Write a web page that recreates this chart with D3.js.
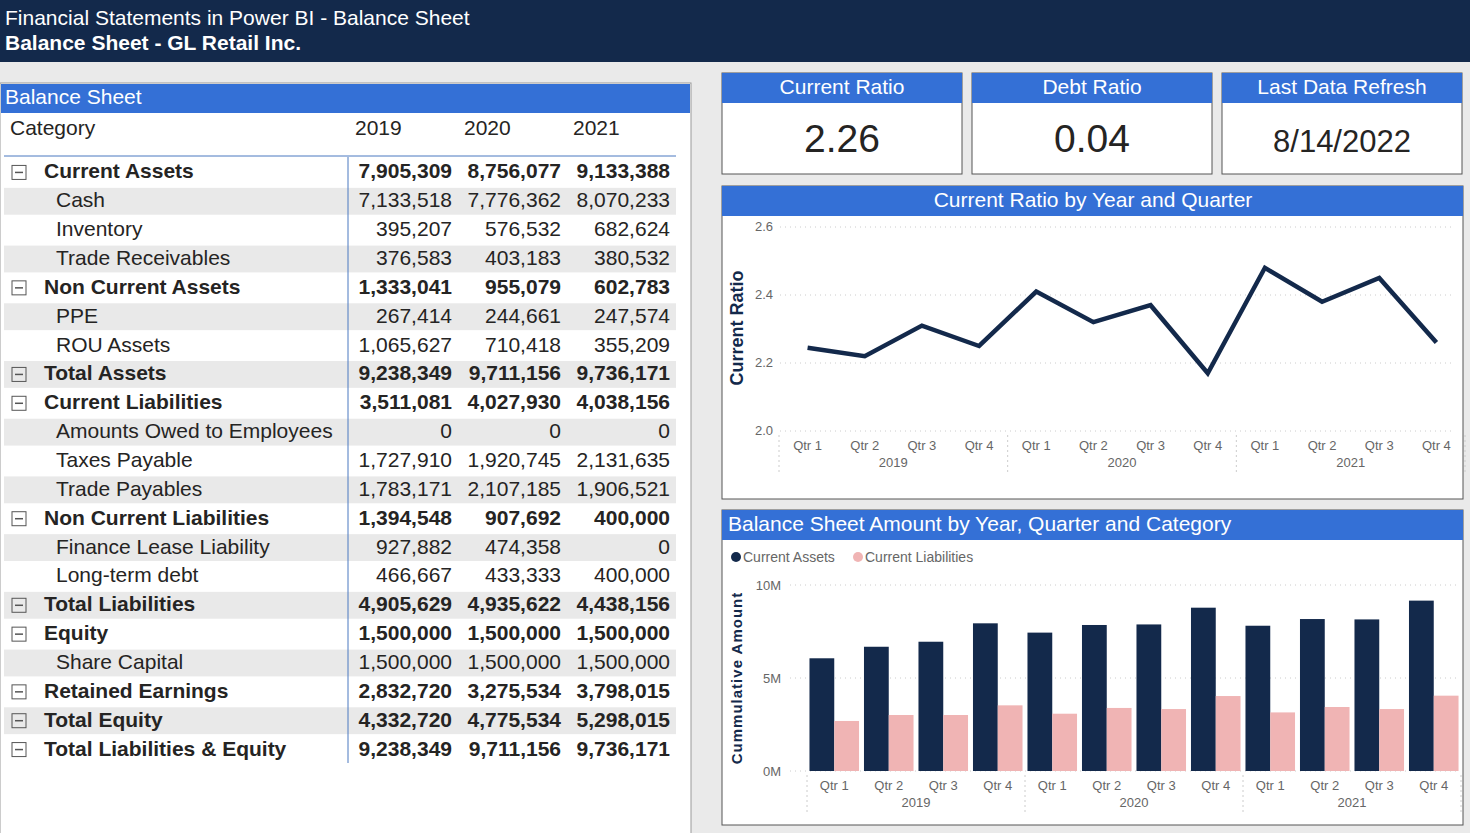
<!DOCTYPE html><html><head><meta charset="utf-8"><script src="https://cdn.jsdelivr.net/npm/d3@7"></script>
<style>body{margin:0;background:#eaeaea;font-family:Arial,"Liberation Sans",sans-serif}svg{display:block}</style></head><body>
<svg id="c" width="1470" height="833"></svg>
<script>
const years=["2019","2020","2021"];
const quarters=["Qtr 1","Qtr 2","Qtr 3","Qtr 4"];
const rowLabels=["Current Assets","Cash","Inventory","Trade Receivables","Non Current Assets","PPE","ROU Assets","Total Assets","Current Liabilities","Amounts Owed to Employees","Taxes Payable","Trade Payables","Non Current Liabilities","Finance Lease Liability","Long-term debt","Total Liabilities","Equity","Share Capital","Retained Earnings","Total Equity","Total Liabilities & Equity"];
const rowBold=[1,0,0,0,1,0,0,1,1,0,0,0,1,0,0,1,1,0,1,1,1];
const rowValues=[
["7,905,309","8,756,077","9,133,388"],["7,133,518","7,776,362","8,070,233"],["395,207","576,532","682,624"],["376,583","403,183","380,532"],
["1,333,041","955,079","602,783"],["267,414","244,661","247,574"],["1,065,627","710,418","355,209"],["9,238,349","9,711,156","9,736,171"],
["3,511,081","4,027,930","4,038,156"],["0","0","0"],["1,727,910","1,920,745","2,131,635"],["1,783,171","2,107,185","1,906,521"],
["1,394,548","907,692","400,000"],["927,882","474,358","0"],["466,667","433,333","400,000"],["4,905,629","4,935,622","4,438,156"],
["1,500,000","1,500,000","1,500,000"],["1,500,000","1,500,000","1,500,000"],["2,832,720","3,275,534","3,798,015"],["4,332,720","4,775,534","5,298,015"],["9,238,349","9,711,156","9,736,171"]];
const kpiLabels=["Current Ratio","Debt Ratio","Last Data Refresh"];
const kpiValues=["2.26","0.04","8/14/2022"];
const ratio=[2.245,2.22,2.31,2.25,2.41,2.32,2.37,2.17,2.48,2.38,2.45,2.26];
const assets=[6.06,6.68,6.95,7.94,7.44,7.85,7.88,8.78,7.81,8.17,8.15,9.16].map(v=>v*1e6);
const liabs=[2.69,3.01,3.01,3.53,3.08,3.39,3.33,4.03,3.15,3.44,3.33,4.05].map(v=>v*1e6);

const svg=d3.select("#c"),NAVY="#13294b",BLUE="#3470d6",PINK="#f0b4b4",TXT="#252423",GR="#666";
svg.append("rect").attr("width",1470).attr("height",62).attr("fill",NAVY);
svg.append("text").attr("x",5).attr("y",25).attr("fill","#fff").attr("font-size",21).text("Financial Statements in Power BI - Balance Sheet");
svg.append("text").attr("x",5).attr("y",50).attr("fill","#fff").attr("font-size",21).attr("font-weight","bold").text("Balance Sheet - GL Retail Inc.");
svg.append("rect").attr("x",0).attr("y",83).attr("width",691).attr("height",760).attr("fill","#fff").attr("stroke","#999");
svg.append("rect").attr("x",1).attr("y",84).attr("width",689).attr("height",29).attr("fill",BLUE);
svg.append("text").attr("x",5).attr("y",104).attr("fill","#fff").attr("font-size",21).text("Balance Sheet");
const colX=[452,561,670];
svg.append("text").attr("x",10).attr("y",135).attr("font-size",21).attr("fill",TXT).text("Category");
years.forEach((y,i)=>svg.append("text").attr("x",[355,464,573][i]).attr("y",135).attr("font-size",21).attr("fill",TXT).text(y));
svg.append("line").attr("x1",4).attr("x2",676).attr("y1",156).attr("y2",156).attr("stroke","#4a78c0");
const ry=d3.scaleBand().domain(d3.range(rowLabels.length)).range([157,763]);
const g=svg.append("g");
rowLabels.forEach((l,i)=>{
  const y=ry(i),h=ry.bandwidth(),cy=y+h/2+7;
  if(i%2==1) g.append("rect").attr("x",4).attr("y",y+2).attr("width",672).attr("height",h-2).attr("fill","#e9e9e9");
  if(rowBold[i]){
    g.append("rect").attr("x",12).attr("y",y+h/2-6).attr("width",14).attr("height",14).attr("fill","none").attr("stroke","#555");
    g.append("line").attr("x1",15).attr("x2",23).attr("y1",y+h/2+1).attr("y2",y+h/2+1).attr("stroke","#555").attr("stroke-width",1.5);
  }
  g.append("text").attr("x",rowBold[i]?44:56).attr("y",cy).attr("font-size",21).attr("font-weight",rowBold[i]?"bold":"normal").attr("fill",TXT).text(l);
  rowValues[i].forEach((v,j)=>g.append("text").attr("x",colX[j]).attr("y",cy).attr("text-anchor","end").attr("font-size",21).attr("font-weight",rowBold[i]?"bold":"normal").attr("fill",TXT).text(v));
});
svg.append("line").attr("x1",348).attr("x2",348).attr("y1",157).attr("y2",763).attr("stroke","#4a78c0");
kpiLabels.forEach((l,i)=>{
  const x=722+i*250;
  svg.append("rect").attr("x",x).attr("y",73).attr("width",240).attr("height",101).attr("fill","#fff").attr("stroke","#555");
  svg.append("rect").attr("x",x).attr("y",73).attr("width",240).attr("height",30).attr("fill",BLUE);
  svg.append("text").attr("x",x+120).attr("y",94).attr("text-anchor","middle").attr("fill","#fff").attr("font-size",21).text(l);
  svg.append("text").attr("x",x+120).attr("y",152).attr("text-anchor","middle").attr("fill",TXT).attr("font-size",i==2?31:39).text(kpiValues[i]);
});
function panel(y,h,title,center){
  svg.append("rect").attr("x",722).attr("y",y).attr("width",741).attr("height",h).attr("fill","#fff").attr("stroke","#555");
  svg.append("rect").attr("x",722).attr("y",y).attr("width",741).attr("height",30).attr("fill",BLUE);
  svg.append("text").attr("x",center?1093:728).attr("y",y+21).attr("text-anchor",center?"middle":"start").attr("fill","#fff").attr("font-size",21).text(title);
}
const keys=[];years.forEach(y=>quarters.forEach(q=>keys.push(y+"|"+q)));
function xAxis(x0,x1,yb){
  const x=d3.scaleBand().domain(keys).range([x0,x1]);
  keys.forEach(k=>svg.append("text").attr("x",x(k)+x.bandwidth()/2).attr("y",yb+19).attr("text-anchor","middle").attr("font-size",13).attr("fill",GR).text(k.split("|")[1]));
  years.forEach((y,i)=>{
    const xs=x(y+"|Qtr 1"),xe=x(y+"|Qtr 4")+x.bandwidth();
    svg.append("text").attr("x",(xs+xe)/2).attr("y",yb+36).attr("text-anchor","middle").attr("font-size",13).attr("fill",GR).text(y);
    svg.append("line").attr("x1",xs).attr("x2",xs).attr("y1",yb+4).attr("y2",yb+42).attr("stroke","#ccc").attr("stroke-dasharray","2,3");
    if(i==2)svg.append("line").attr("x1",xe).attr("x2",xe).attr("y1",yb+4).attr("y2",yb+42).attr("stroke","#ccc").attr("stroke-dasharray","2,3");
  });
  return x;
}
panel(186,313,"Current Ratio by Year and Quarter",true);
const yl=d3.scaleLinear().domain([2.0,2.6]).range([431,227]);
[2.0,2.2,2.4,2.6].forEach(t=>{
  svg.append("line").attr("x1",780).attr("x2",1455).attr("y1",yl(t)).attr("y2",yl(t)).attr("stroke","#ccc").attr("stroke-dasharray","1,4");
  svg.append("text").attr("x",773).attr("y",yl(t)+4).attr("text-anchor","end").attr("font-size",13).attr("fill",GR).text(t.toFixed(1));
});
const xl=xAxis(779,1465,431);
svg.append("path").datum(ratio).attr("fill","none").attr("stroke",NAVY).attr("stroke-width",4.5)
 .attr("d",d3.line().x((d,i)=>xl(keys[i])+xl.bandwidth()/2).y(d=>yl(d)));
svg.append("text").attr("transform","translate(743,328) rotate(-90)").attr("text-anchor","middle").attr("font-size",18).attr("font-weight","bold").attr("fill",NAVY).text("Current Ratio");
panel(510,315,"Balance Sheet Amount by Year, Quarter and Category",false);
[["Current Assets",NAVY,736],["Current Liabilities",PINK,858]].forEach(([t,c,x])=>{
  svg.append("circle").attr("cx",x).attr("cy",557).attr("r",5).attr("fill",c);
  svg.append("text").attr("x",x+7).attr("y",562).attr("font-size",14).attr("fill",GR).text(t);
});
const yb=d3.scaleLinear().domain([0,1e7]).range([771,585]);
[0,5e6,1e7].forEach(t=>{
  svg.append("line").attr("x1",790).attr("x2",1460).attr("y1",yb(t)).attr("y2",yb(t)).attr("stroke","#ccc").attr("stroke-dasharray","1,4");
  svg.append("text").attr("x",781).attr("y",yb(t)+5).attr("text-anchor","end").attr("font-size",13).attr("fill",GR).text(t/1e6+"M");
});
const xb=xAxis(807,1461,771);
const inner=d3.scaleBand().domain([0,1]).range([0,xb.bandwidth()]).paddingOuter(0.1);
keys.forEach((k,i)=>{
  svg.append("rect").attr("x",xb(k)+inner(0)).attr("width",inner.bandwidth()).attr("y",yb(assets[i])).attr("height",yb(0)-yb(assets[i])).attr("fill",NAVY);
  svg.append("rect").attr("x",xb(k)+inner(1)).attr("width",inner.bandwidth()).attr("y",yb(liabs[i])).attr("height",yb(0)-yb(liabs[i])).attr("fill",PINK);
});
svg.append("text").attr("transform","translate(742,678) rotate(-90)").attr("text-anchor","middle").attr("font-size",15).attr("font-weight","bold").attr("letter-spacing",1).attr("fill",NAVY).text("Cummulative Amount");
</script></body></html>
